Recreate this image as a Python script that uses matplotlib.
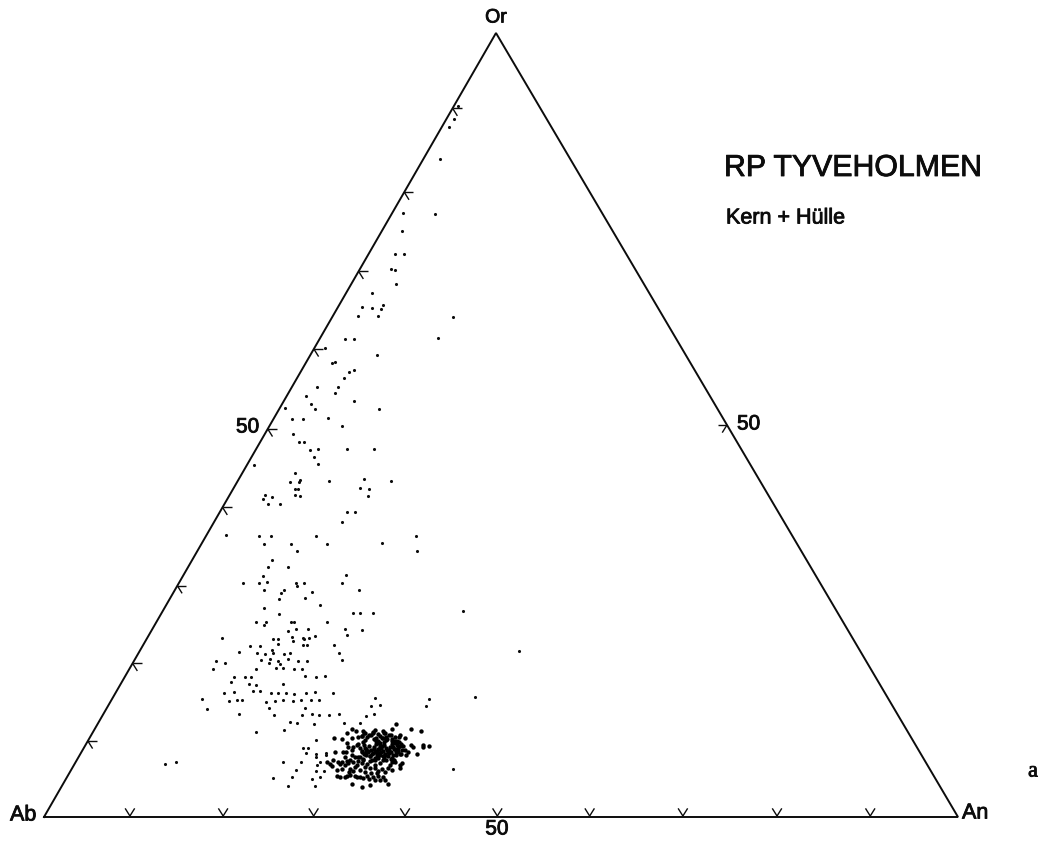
import numpy as np
import matplotlib.pyplot as plt
import matplotlib.patheffects as pe

# corners of the diagram
corner_names = ["Ab", "An", "Or"]
corner_x = [44, 958, 496]
corner_y = [817, 817, 33]

# tick steps along the edges (fraction of the edge)
left_ticks = [0.097, 0.196, 0.295, 0.395, 0.495, 0.597, 0.696, 0.797, 0.904]
base_ticks = [0.094, 0.196, 0.295, 0.395, 0.496, 0.597, 0.699, 0.802, 0.904]
right_ticks = [0.50]

# analyses spread over the diagram
spread_x = [458, 454, 449, 440, 403, 435, 402, 395, 404, 391, 395, 396, 372, 362, 372, 383, 381, 358, 378, 453,
            345, 354, 438, 325, 377, 332, 335, 349, 354, 344, 338, 317, 335, 306, 311, 354, 285, 315, 379, 292,
            303, 328, 342, 293, 299, 304, 310, 318, 347, 374, 314, 318, 254, 295, 290, 299, 300, 329, 364, 391,
            295, 298, 360, 369, 295, 300, 368, 265, 272, 263, 268, 280, 347, 355, 342, 226, 259, 271, 316, 416,
            264, 291, 327, 382, 297, 417, 272, 268, 288, 346, 263, 243, 259, 267, 264, 296, 297, 304, 342, 359,
            284, 281, 279, 312, 305, 320, 264, 279, 353, 360, 373, 256, 266, 264, 291, 294, 288, 296, 308, 327,
            345, 347, 362, 222, 273, 278, 278, 292, 293, 303, 304, 309, 315, 303, 307, 334, 250, 260, 239, 257,
            265, 272, 273, 284, 290, 339, 342, 216, 225, 213, 261, 270, 269, 278, 280, 288, 298, 307, 276, 283,
            294, 302, 256, 305, 316, 325, 234, 245, 251, 231, 249, 256, 283, 253, 260, 234, 224, 271, 278, 286,
            294, 306, 315, 333, 202, 229, 237, 242, 275, 283, 293, 301, 311, 319, 266, 207, 269, 305, 239, 274,
            302, 312, 319, 329, 339, 366, 374, 371, 380, 375, 290, 297, 314, 344, 360, 284, 256, 316, 303, 308,
            306, 165, 176, 283, 301, 296, 292, 273, 288, 312, 320, 316, 324, 315, 316, 316, 326, 326, 320, 317,
            463, 519, 475, 453, 429, 426]
spread_y = [106, 119, 127, 159, 213, 214, 231, 254, 254, 269, 270, 284, 293, 307, 308, 305, 309, 316, 316, 317,
            339, 339, 338, 348, 355, 363, 362, 372, 370, 378, 387, 387, 393, 396, 404, 401, 408, 409, 409, 419,
            419, 418, 426, 434, 442, 442, 450, 449, 449, 449, 457, 464, 465, 473, 482, 482, 480, 481, 479, 481,
            489, 489, 488, 489, 495, 496, 496, 495, 497, 499, 504, 504, 512, 512, 522, 535, 536, 536, 536, 536,
            544, 544, 544, 543, 551, 551, 560, 567, 567, 575, 576, 583, 583, 582, 590, 583, 586, 583, 583, 590,
            590, 593, 599, 592, 598, 605, 608, 614, 613, 613, 613, 622, 622, 625, 622, 622, 631, 629, 629, 622,
            629, 635, 630, 638, 639, 639, 644, 637, 641, 638, 639, 638, 636, 645, 645, 645, 646, 646, 652, 653,
            654, 650, 653, 654, 653, 653, 660, 661, 663, 669, 660, 659, 663, 661, 664, 659, 661, 661, 668, 668,
            669, 669, 669, 676, 677, 676, 677, 677, 677, 682, 684, 685, 684, 691, 691, 692, 693, 693, 693, 693,
            694, 693, 692, 693, 699, 701, 700, 700, 701, 700, 701, 700, 700, 700, 702, 709, 708, 708, 714, 715,
            715, 714, 715, 715, 714, 716, 714, 706, 705, 698, 722, 723, 724, 723, 723, 730, 732, 740, 748, 748,
            753, 764, 762, 762, 762, 770, 777, 778, 786, 779, 777, 771, 771, 786, 754, 757, 753, 755, 762, 765,
            611, 651, 697, 769, 699, 706]

# the dense cluster near the base
cluster_x = [396, 352, 356, 347, 363, 365, 383, 392, 411, 421, 334, 342, 352, 358, 362, 373, 375, 385, 400, 405,
             411, 413, 423, 423, 429, 417, 408, 406, 402, 347, 348, 357, 343, 346, 352, 335, 353, 352, 355, 362,
             327, 330, 338, 340, 347, 348, 353, 358, 363, 370, 375, 383, 392, 400, 332, 342, 350, 353, 360, 365,
             370, 375, 382, 388, 400, 340, 337, 347, 350, 357, 363, 367, 373, 378, 383, 385, 388, 352, 362, 370,
             371, 377, 357, 362, 367,
             342, 345, 355, 349, 345, 355, 365, 375, 380, 390, 360, 369, 380, 337, 333, 378, 385, 358, 345, 350,
             375, 392, 395,
             364, 369, 373, 378, 384, 391, 362, 367, 371, 376, 380, 386, 389, 395, 365, 374, 378, 382, 386, 392,
             397, 363, 376, 380, 384, 392, 396, 399, 364, 376, 380, 384, 393, 397, 401, 365, 369, 374, 378, 382,
             386, 390, 395, 400, 362, 366, 371, 375, 379, 383, 387, 391, 394, 398, 402, 364, 368, 373, 377, 381,
             385, 389, 393, 397, 400, 360, 366, 370, 375, 380, 384, 388, 392, 396, 363, 372, 378, 386, 391, 394,
             368, 372, 377, 381, 385, 389, 393, 398, 403, 370, 374, 378, 383, 388, 392, 396, 401, 405, 379, 383,
             387, 395, 399, 366, 360, 358]
cluster_y = [724, 729, 731, 733, 731, 733, 731, 729, 729, 731, 738, 739, 738, 737, 736, 733, 730, 733, 735, 738,
             745, 747, 745, 747, 746, 754, 752, 755, 763, 743, 747, 745, 752, 752, 750, 752, 747, 755, 757, 752,
             762, 764, 762, 764, 761, 763, 762, 761, 760, 761, 760, 760, 762, 765, 766, 769, 769, 771, 770, 767,
             768, 768, 769, 768, 768, 777, 776, 776, 775, 777, 778, 776, 777, 776, 777, 780, 784, 784, 787, 785,
             773, 773, 765, 763, 764,
             762, 765, 767, 772, 777, 776, 772, 765, 763, 765, 777, 779, 780, 770, 760, 771, 772, 757, 757, 760,
             780, 770, 762,
             733, 735, 732, 734, 733, 735, 736, 737, 735, 738, 736, 737, 735, 737, 740, 739, 741, 738, 740, 739,
             741, 742, 741, 743, 742, 741, 743, 742, 745, 744, 746, 745, 743, 745, 744, 748, 746, 747, 749, 746,
             748, 747, 749, 746, 751, 749, 750, 752, 749, 751, 750, 752, 749, 751, 750, 754, 752, 753, 755, 752,
             754, 753, 755, 752, 754, 757, 755, 756, 758, 755, 757, 756, 758, 755, 759, 760, 758, 760, 759, 760,
             751, 754, 751, 748, 755, 750, 747, 748, 746, 756, 749, 753, 756, 752, 744, 752, 754, 750, 743, 738,
             739, 741, 737, 752, 748, 744]

INK = "#0c0c0c"
TICK_LEN = 9
heavy = [pe.withStroke(linewidth=0.6, foreground=INK)]


def edge_point(a, b, frac):
    """Point a fraction of the way from corner a to corner b."""
    return (corner_x[a] + frac * (corner_x[b] - corner_x[a]),
            corner_y[a] + frac * (corner_y[b] - corner_y[a]))


def draw_tick(ax, px, py, angles):
    """Two short arms leaving the edge, along the other ternary directions."""
    for ang in np.radians(angles):
        ax.plot([px, px + TICK_LEN * np.cos(ang)], [py, py + TICK_LEN * np.sin(ang)],
                color=INK, lw=1.0, solid_capstyle="butt")


def label(x, y, txt, size, ha="left", family="Liberation Sans", **kw):
    ax.text(x, y, txt, fontsize=size, family=family, ha=ha, va="center", color=INK,
            path_effects=heavy, **kw)


fig = plt.figure(figsize=(10.54, 8.43), dpi=100)
ax = fig.add_axes([0, 0, 1, 1])
ax.set_xlim(0, 1054)
ax.set_ylim(843, 0)
ax.axis("off")

ax.plot(corner_x + corner_x[:1], corner_y + corner_y[:1], color=INK, lw=1.4, solid_joinstyle="miter")

for f in left_ticks:
    px, py = edge_point(0, 2, f)
    draw_tick(ax, px, py, [0, 58])
for f in base_ticks:
    px, py = edge_point(0, 1, f)
    draw_tick(ax, px, py - 1, [-122, -58])
for f in right_ticks:
    px, py = edge_point(1, 2, f)
    draw_tick(ax, px, py, [180, 122])

ax.scatter(spread_x, spread_y, s=5, color=INK, linewidths=0)
ax.scatter(cluster_x, cluster_y, s=10, color="black", linewidths=0)

label(496, 18, "Or", 14, ha="center")
label(10, 815, "Ab", 15.5)
label(962, 813, "An", 15.5)
label(236, 427, "50", 15)
label(737, 424, "50", 15)
label(497, 829, "50", 15, ha="center")
label(724, 168, "RP TYVEHOLMEN", 21.8)
label(726, 218, "Kern + Hülle", 15.5)
label(1033, 772, "a", 16, ha="center", family="Liberation Serif")

fig.savefig("out.png", dpi=100, facecolor="white")
